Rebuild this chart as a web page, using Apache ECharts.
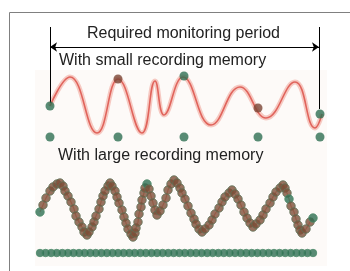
<!DOCTYPE html>
<html>
<head>
<meta charset="utf-8">
<script src="https://cdn.jsdelivr.net/npm/echarts@6/dist/echarts.min.js"></script>
<style>
  html, body { margin: 0; padding: 0; background: #fff; }
  #chart { width: 350px; height: 271px; }
</style>
</head>
<body>
<div id="chart"></div>
<script>
// diagram units: x = time, y = signal level (screen-like, grows downward)
var periodStart = 50;
var periodEnd = 319;

// small memory: the real signal (turning points) and the few samples kept
var smallWaveX = [50, 70, 97, 118, 142, 155, 164, 183, 211, 240, 266, 295, 315, 322];
var smallWaveY = [106, 77, 133, 79, 133, 81, 115, 77, 125, 87, 118, 82, 128, 114];
var smallSampleX = [50, 118, 184, 258, 320];
var smallSampleY = [106, 79, 76, 108, 114];
var smallSampleKind = ['g', 'b', 'g', 'b', 'g'];
var smallRowY = [137, 137, 137, 137, 137];

// large memory: many samples following the signal closely
var largeWave = [
  [40, 212], [43, 205], [46, 198], [50, 191], [53, 187], [57, 184], [60, 183],
  [63, 186], [65, 191], [68, 196], [71, 202], [74, 209], [76, 216], [79, 222], [82, 227], [84, 232], [87, 235],
  [89, 232], [92, 227], [94, 222], [96, 216], [99, 209], [101, 202], [103, 196], [105, 191], [108, 186], [110, 183],
  [112, 186], [115, 191], [117, 197], [119, 203], [122, 210], [124, 217], [126, 223], [128, 229], [131, 234], [133, 237],
  [135, 233], [136, 228], [138, 222], [139, 214], [141, 207], [142, 200], [144, 193], [145, 188], [147, 184],
  [149, 189], [151, 196], [153, 203], [155, 210], [157, 215],
  [160, 211], [163, 205], [166, 198], [168, 190], [171, 184], [174, 180],
  [177, 183], [180, 188], [182, 193], [185, 199], [188, 206], [191, 213], [194, 219], [196, 224], [199, 229], [202, 232],
  [205, 229], [209, 225], [212, 220], [215, 214], [219, 208], [222, 202], [225, 197], [229, 193], [232, 190],
  [235, 194], [238, 199], [241, 205], [244, 212], [247, 218], [250, 223], [253, 227],
  [256, 224], [260, 220], [263, 215], [266, 209], [270, 203], [273, 197], [276, 192], [280, 188], [283, 185],
  [285, 188], [287, 193], [289, 199], [291, 206], [294, 212], [296, 219], [298, 225], [300, 230], [302, 233],
  [306, 229], [310, 222], [313, 218]
];
var largeGreen = [0, 45, 94, 103];

// large memory: stored sample row
var largeSamples = ['1','2','3','4','5','6','7','8','9','10','11','12','13','14','15','16','17','18','19','20',
  '21','22','23','24','25','26','27','28','29','30','31','32','33','34','35','36','37','38','39','40',
  '41','42','43','44','45','46','47','48','49','50'];
var largeRowY = [253, 253, 253, 253, 253, 253, 253, 253, 253, 253,
  253, 253, 253, 253, 253, 253, 253, 253, 253, 253,
  253, 253, 253, 253, 253, 253, 253, 253, 253, 253,
  253, 253, 253, 253, 253, 253, 253, 253, 253, 253,
  253, 253, 253, 253, 253, 253, 253, 253, 253, 253];

var GREEN = '#2e6f52';
var BROWN = '#7a4535';
var LINE = '#e0645c';
var HALO = '#f6c9c2';
var FONT = '16px "Liberation Sans", Arial, sans-serif';

function drawMemoryChart() {
    var dom = document.getElementById('chart');
    var myChart = echarts.init(dom, null, { renderer: 'canvas' });

    var smallWave = smallWaveX.map(function (x, i) { return [x, smallWaveY[i]]; });
    var smallSamples = smallSampleX.map(function (x, i) {
        return {
            value: [x, smallSampleY[i]],
            itemStyle: { color: smallSampleKind[i] === 'g' ? GREEN : BROWN }
        };
    });
    var smallRow = smallSampleX.map(function (x, i) { return [x, smallRowY[i]]; });
    var largeDots = largeWave.map(function (p, i) {
        var green = largeGreen.indexOf(i) >= 0;
        return {
            value: p,
            itemStyle: { color: green ? GREEN : '#7d4f38', borderColor: green ? '#4f8c6c' : '#5e7258' }
        };
    });

    var hidden = { show: false };
    var option = {
        animation: false,
        backgroundColor: '#fff',
        grid: [
            { left: 0, right: 0, top: 0, bottom: 0 },
            { left: 40, right: 37, top: 0, bottom: 0 }
        ],
        xAxis: [
            { type: 'value', gridIndex: 0, min: 0, max: 350, show: false, splitLine: hidden },
            { type: 'category', gridIndex: 1, data: largeSamples, boundaryGap: false, show: false }
        ],
        yAxis: [
            { type: 'value', gridIndex: 0, min: 0, max: 271, inverse: true, show: false, splitLine: hidden },
            { type: 'value', gridIndex: 1, min: 0, max: 271, inverse: true, show: false, splitLine: hidden }
        ],
        graphic: [
            { type: 'rect', z: -10, shape: { x: 35, y: 70, width: 292, height: 196 }, style: { fill: '#fdfaf8' } },
            { type: 'rect', z: -9, shape: { x: 9.5, y: 12.5, width: 360, height: 290 }, style: { fill: 'none', stroke: '#808080', lineWidth: 1 } },
            { type: 'text', left: 87, top: 26, style: { text: 'Required monitoring period', font: FONT, fill: '#222' } },
            { type: 'text', left: 59, top: 53, style: { text: 'With small recording memory', font: FONT, fill: '#222' } },
            { type: 'text', left: 58, top: 148, style: { text: 'With large recording memory', font: FONT, fill: '#222' } }
        ],
        series: [
            {
                type: 'lines',
                coordinateSystem: 'cartesian2d',
                symbol: ['none', 'none'],
                lineStyle: { color: '#000', width: 1, opacity: 1 },
                data: [
                    { coords: [[periodStart, 27], [periodStart, 103]] },
                    { coords: [[periodEnd, 27], [periodEnd, 109]] }
                ],
                z: 5
            },
            {
                type: 'lines',
                coordinateSystem: 'cartesian2d',
                symbol: ['arrow', 'arrow'],
                symbolSize: 7,
                lineStyle: { color: '#000', width: 1, opacity: 1 },
                data: [{ coords: [[periodStart, 47], [periodEnd, 47]] }],
                z: 5
            },
            {
                type: 'line', xAxisIndex: 0, yAxisIndex: 0,
                data: smallWave, smooth: 0.45, showSymbol: false,
                lineStyle: { color: HALO, width: 5 }, z: 2
            },
            {
                type: 'line', xAxisIndex: 0, yAxisIndex: 0,
                data: smallWave, smooth: 0.45, showSymbol: false,
                lineStyle: { color: LINE, width: 1.6 }, z: 3
            },
            {
                type: 'scatter', xAxisIndex: 0, yAxisIndex: 0,
                data: smallSamples, symbolSize: 9, z: 6
            },
            {
                type: 'scatter', xAxisIndex: 0, yAxisIndex: 0,
                data: smallRow, symbolSize: 9, itemStyle: { color: GREEN }, z: 6
            },
            {
                type: 'line', xAxisIndex: 0, yAxisIndex: 0,
                data: largeWave, smooth: 0.3, showSymbol: false,
                lineStyle: { color: '#f08a7c', width: 1.2 }, z: 3
            },
            {
                type: 'scatter', xAxisIndex: 0, yAxisIndex: 0,
                data: largeDots, symbolSize: 8.5,
                itemStyle: { borderWidth: 1 }, z: 6
            },
            {
                type: 'scatter', xAxisIndex: 1, yAxisIndex: 1,
                data: largeRowY, symbolSize: 7.5,
                itemStyle: { color: GREEN, borderColor: '#4f8c6c', borderWidth: 1 }, z: 6
            }
        ]
    };

    if (option && typeof option === 'object') {
        myChart.setOption(option);
    }
    window.addEventListener('resize', myChart.resize);
}

drawMemoryChart();
</script>
</body>
</html>
